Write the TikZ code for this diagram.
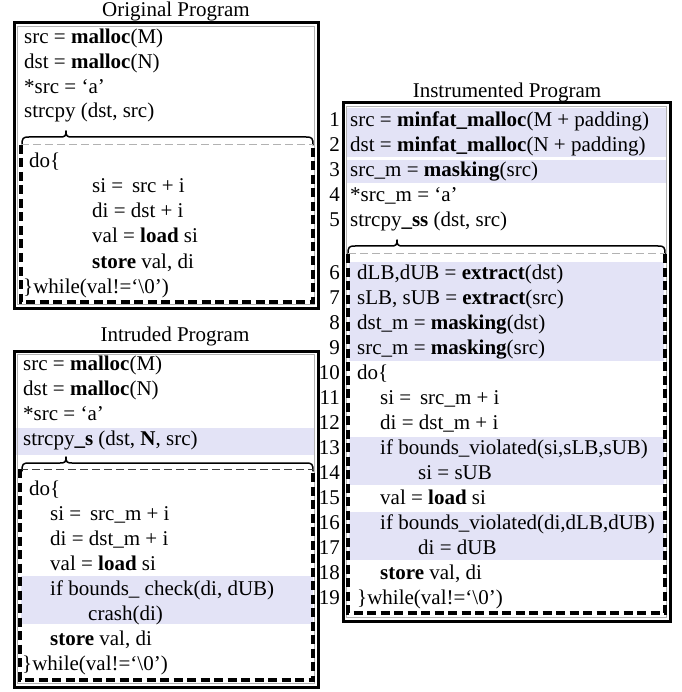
\documentclass[tikz,border=0pt]{standalone}
\usepackage{fontspec}
\setmainfont{Liberation Serif}
\definecolor{hl}{RGB}{227,227,246}
\tikzset{
  txt/.style={anchor=base west, inner sep=0pt, font=\fontsize{21}{25}\selectfont},
  num/.style={anchor=base east, inner sep=0pt, font=\fontsize{21}{25}\selectfont},
  ttl/.style={anchor=base, inner sep=0pt, font=\fontsize{21}{25}\selectfont},
  outerbox/.style={draw=black, line width=3pt},
  innerline/.style={draw=black!30, line width=0.6pt},
  loopdash/.style={draw=black, line width=3.4pt, dash pattern=on 9pt off 4.5pt},
  topdash/.style={line width=1pt, dash pattern=on 8pt off 4pt},
  bracecurve/.style={draw=black, line width=1.5pt, line cap=round, line join=round},
  hlbox/.style={fill=hl, draw=none}
}
\newcommand\mybrace[4]{% x1, x2, y, tip x
  \draw[bracecurve] (#1,#3+8) .. controls (#1,#3+1) and (#1+1,#3) .. (#1+7,#3)
    -- (#4-6,#3) .. controls (#4-1,#3) and (#4,#3-1) .. (#4,#3-6)
    .. controls (#4,#3-1) and (#4+1,#3) .. (#4+6,#3)
    -- (#2-7,#3) .. controls (#2-1,#3) and (#2,#3+1) .. (#2,#3+8);}
\newcommand\dashframe[6]{% x1, x2, ytop, ybottom, top colour
  \draw[topdash, draw=#5] (#1,#3) -- (#2,#3);
  \draw[loopdash] (#1,#3) -- (#1,#4) -- (#2,#4) -- (#2,#3);}
\newcommand\us{\_}
\begin{document}
\begin{tikzpicture}[x=1pt,y=-1pt]
\useasboundingbox (0,0) rectangle (681,692);

%% ---------------- Original Program ----------------
\node[ttl] (otitle) at (176,17) {Original Program};
\draw[outerbox] (14,23) rectangle (318,308);
\draw[innerline] (17.5,26.5) rectangle (314.5,304.5);
\node[txt] (o1) at (24,44) {src = \textbf{malloc}(M)};
\node[txt] (o2) at (24,69) {dst = \textbf{malloc}(N)};
\node[txt] (o3) at (24,94) {*src = ‘a’};
\node[txt] (o4) at (24,118) {strcpy (dst, src)};
\mybrace{22}{313}{137}{66}{}{}
\dashframe{21}{313}{145}{302}{black!30}{}
\node[txt] (o5) at (29,168) {do\{};
\node[txt] (o6) at (92,193) {si =\, src + i};
\node[txt] (o7) at (92,218) {di = dst + i};
\node[txt] (o8) at (92,243) {val = \textbf{load} si};
\node[txt] (o9) at (92,268) {\textbf{store} val, di};
\node[txt] (o10) at (23,293) {\}while(val!=‘\textbackslash 0’)};

%% ---------------- Intruded Program ----------------
\node[ttl] (ititle) at (175,341) {Intruded Program};
\fill[hlbox] (16,428) rectangle (315,455);
\fill[hlbox] (21,576) rectangle (313,624);
\draw[outerbox] (14,351) rectangle (318,687);
\draw[innerline] (17.5,354.5) rectangle (314.5,683.5);
\node[txt] (i1) at (23,370) {src = \textbf{malloc}(M)};
\node[txt] (i2) at (23,395) {dst = \textbf{malloc}(N)};
\node[txt] (i3) at (23,420) {*src = ‘a’};
\node[txt] (i4) at (23,445) {strcpy\textbf{\us s} (dst, \textbf{N}, src)};
\mybrace{22}{313}{463}{66}{}{}
\dashframe{20}{313}{469}{680}{black!75}{}
\node[txt] (i5) at (29,495) {do\{};
\node[txt] (i6) at (50,520) {si =\, src\us m + i};
\node[txt] (i7) at (50,545) {di = dst\us m + i};
\node[txt] (i8) at (50,570) {val = \textbf{load} si};
\node[txt] (i9) at (50,595) {if bounds\us\ check(di, dUB)};
\node[txt] (i10) at (88,620) {crash(di)};
\node[txt] (i11) at (50,645) {\textbf{store} val, di};
\node[txt] (i12) at (22,670) {\}while(val!=‘\textbackslash 0’)};

%% ---------------- Instrumented Program ----------------
\node[ttl] (mtitle) at (507,98) {Instrumented Program};
\fill[hlbox] (346,108) rectangle (667,157);
\fill[hlbox] (346,160) rectangle (667,183);
\fill[hlbox] (349,262) rectangle (664,361);
\fill[hlbox] (349,437) rectangle (664,485);
\fill[hlbox] (349,512) rectangle (664,560);
\draw[outerbox] (343,103) rectangle (670,621);
\draw[innerline] (346.5,106.5) rectangle (666.5,617.5);
\node[txt] (m1) at (350,127) {src = \textbf{minfat\us malloc}(M + padding)};
\node[txt] (m2) at (350,152) {dst = \textbf{minfat\us malloc}(N + padding)};
\node[txt] (m3) at (350,177) {src\us m = \textbf{masking}(src)};
\node[txt] (m4) at (350,202) {*src\us m = ‘a’};
\node[txt] (m5) at (350,227) {strcpy\textbf{\us ss} (dst, src)};
\mybrace{348}{665}{246}{397}{}{}
\dashframe{348}{665}{254}{613}{black!30}{}
\node[txt] (m6) at (357,279) {dLB,dUB = \textbf{extract}(dst)};
\node[txt] (m7) at (357,304) {sLB, sUB = \textbf{extract}(src)};
\node[txt] (m8) at (357,329) {dst\us m = \textbf{masking}(dst)};
\node[txt] (m9) at (357,354) {src\us m = \textbf{masking}(src)};
\node[txt] (m10) at (357,379) {do\{};
\node[txt] (m11) at (380,404) {si =\, src\us m + i};
\node[txt] (m12) at (380,429) {di = dst\us m + i};
\node[txt] (m13) at (380,454) {if bounds\us violated(si,sLB,sUB)};
\node[txt] (m14) at (418,479) {si = sUB};
\node[txt] (m15) at (380,504) {val = \textbf{load} si};
\node[txt] (m16) at (380,529) {if bounds\us violated(di,dLB,dUB)};
\node[txt] (m17) at (418,554) {di = dUB};
\node[txt] (m18) at (380,579) {\textbf{store} val, di};
\node[txt] (m19) at (357,604) {\}while(val!=‘\textbackslash 0’)};

%% line numbers
\foreach \k/\y in {1/127,2/152,3/177,4/202,5/227,6/279,7/304,8/329,9/354,10/379,
                   11/404,12/429,13/454,14/479,15/504,16/529,17/554,18/579,19/604}
  \node[num] (n\k) at (340,\y) {\k};
\end{tikzpicture}
\end{document}
